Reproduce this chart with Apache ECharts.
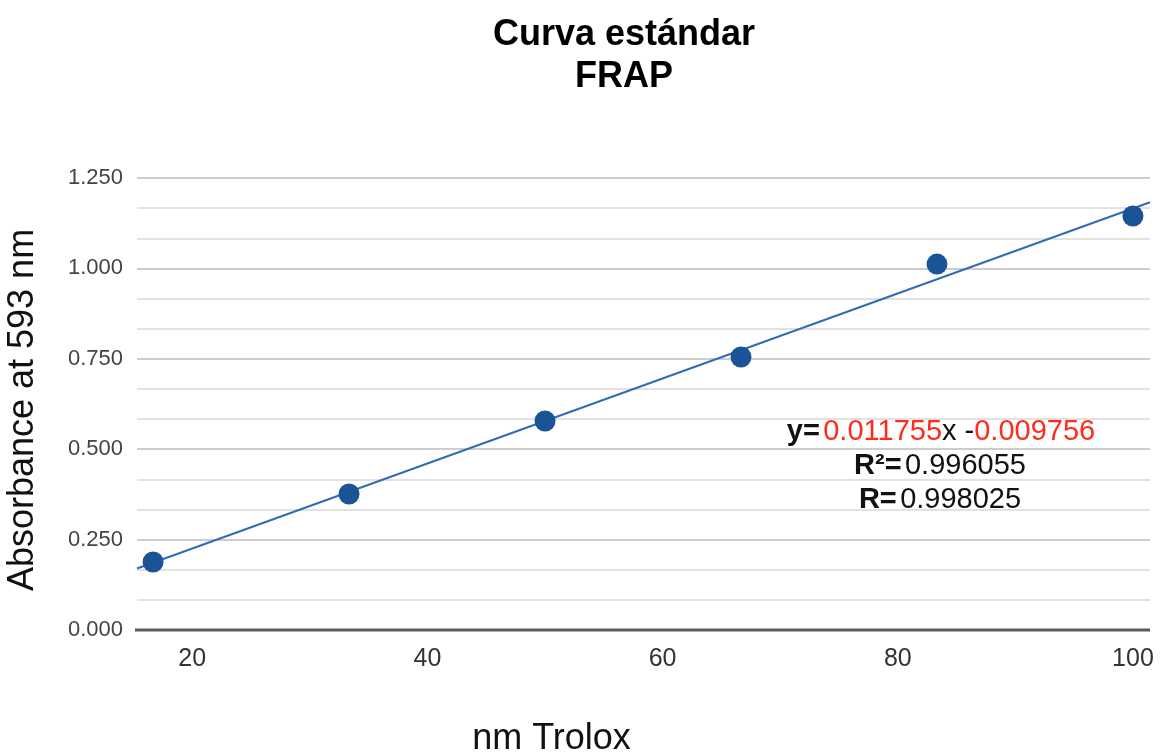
<!DOCTYPE html>
<html>
<head>
<meta charset="utf-8">
<script src="https://cdn.jsdelivr.net/npm/echarts@6/dist/echarts.min.js"></script>
<style>
  html, body { margin: 0; padding: 0; background: #fff; }
  #chart { width: 1163px; height: 753px; }
</style>
</head>
<body>
<div id="chart"></div>
<script>
// datos de la curva estándar
var trolox = [16.667, 33.333, 50, 66.667, 83.333, 100];
var absorbance = [0.188, 0.376, 0.578, 0.755, 1.012, 1.145];
var xTicks = [20, 40, 60, 80, 100];
var slope = 0.011755;
var intercept = -0.009756;
var xRange = [15.3, 101.45];

var fitLine = xRange.map(function (x) { return [x, slope * x + intercept]; });
var points = trolox.map(function (x, i) { return [x, absorbance[i]]; });

var chart = echarts.init(document.getElementById('chart'));

var F = 'Liberation Sans';
var eqSize = 29;

var option = {
  animation: false,
  title: {
    text: 'Curva estándar\nFRAP',
    left: 619,
    top: 9,
    textAlign: 'center',
    textStyle: {
      fontFamily: F,
      fontWeight: 'bold',
      fontSize: 36,
      lineHeight: 42,
      color: '#000'
    }
  },
  grid: { left: 137, right: 13, top: 178, bottom: 123, containLabel: false, outerBoundsMode: 'none' },
  xAxis: {
    type: 'value',
    min: xRange[0],
    max: xRange[1],
    name: 'nm Trolox',
    nameLocation: 'middle',
    nameGap: 91,
    nameTextStyle: { fontFamily: F, fontSize: 36, color: '#111', padding: [0, 184, 0, 0] },
    axisLine: { show: false },
    axisTick: { show: false },
    splitLine: { show: false },
    axisLabel: {
      customValues: xTicks,
      margin: 17,
      fontFamily: F,
      fontSize: 25,
      color: '#333'
    }
  },
  yAxis: {
    type: 'value',
    min: 0,
    max: 1.25,
    interval: 0.25,
    name: 'Absorbance at 593 nm',
    nameLocation: 'middle',
    nameGap: 96,
    nameTextStyle: { fontFamily: F, fontSize: 36, color: '#111', padding: [0, 12, 0, 0] },
    axisLine: { show: false },
    axisTick: { show: false },
    axisLabel: {
      margin: 14,
      fontFamily: F,
      fontSize: 22,
      color: '#444',
      formatter: function (v) { return v.toFixed(3); }
    },
    splitLine: { lineStyle: { color: '#bdbdbd', width: 1.5 } },
    minorTick: { show: false, splitNumber: 3 },
    minorSplitLine: { show: true, lineStyle: { color: '#d9d9d9', width: 1.5 } }
  },
  graphic: [
    {
      type: 'line',
      shape: { x1: 135, y1: 630, x2: 1150, y2: 630 },
      style: { stroke: '#5a5a5a', lineWidth: 3 },
      z: 3
    },
    {
      type: 'text',
      x: 941,
      y: 432,
      style: {
        text: '{b|y=} {r|0.011755}{n|x -}{r|0.009756}',
        align: 'center',
        verticalAlign: 'middle',
        rich: {
          b: { fontFamily: F, fontWeight: 'bold', fontSize: eqSize, fill: '#111' },
          r: { fontFamily: F, fontSize: eqSize, fill: '#ff2a1a' },
          n: { fontFamily: F, fontSize: eqSize, fill: '#111' }
        }
      },
      z: 10
    },
    {
      type: 'text',
      x: 940,
      y: 466,
      style: {
        text: '{b|R²=} {n|0.996055}',
        align: 'center',
        verticalAlign: 'middle',
        rich: {
          b: { fontFamily: F, fontWeight: 'bold', fontSize: eqSize, fill: '#111' },
          n: { fontFamily: F, fontSize: eqSize, fill: '#111' }
        }
      },
      z: 10
    },
    {
      type: 'text',
      x: 940,
      y: 500,
      style: {
        text: '{b|R=} {n|0.998025}',
        align: 'center',
        verticalAlign: 'middle',
        rich: {
          b: { fontFamily: F, fontWeight: 'bold', fontSize: eqSize, fill: '#111' },
          n: { fontFamily: F, fontSize: eqSize, fill: '#111' }
        }
      },
      z: 10
    }
  ],
  series: [
    {
      name: 'Tendencia',
      type: 'line',
      data: fitLine,
      showSymbol: false,
      lineStyle: { color: '#2f6db3', width: 2 },
      z: 2
    },
    {
      name: 'Absorbancia',
      type: 'scatter',
      data: points,
      symbolSize: 21,
      itemStyle: { color: '#1a5496', opacity: 1 },
      z: 4
    }
  ]
};

chart.setOption(option);
</script>
</body>
</html>
